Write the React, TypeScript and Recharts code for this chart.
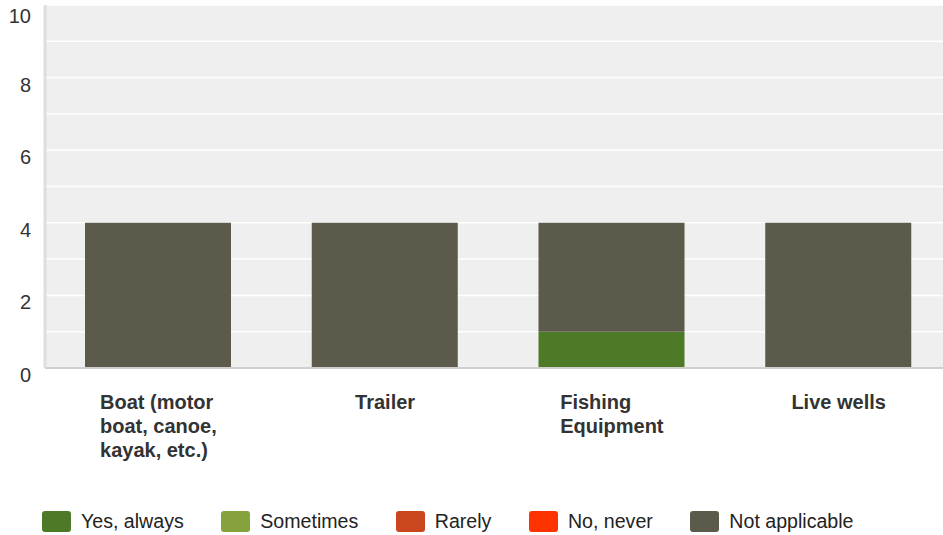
import React from "react";
import { BarChart, Bar, XAxis, YAxis, CartesianGrid } from "recharts";

const categories = ["Boat (motor boat, canoe, kayak, etc.)", "Trailer", "Fishing Equipment", "Live wells"];
const categoryLines = [["Boat (motor", "boat, canoe,", "kayak, etc.)"], ["Trailer"], ["Fishing", "Equipment"], ["Live wells"]];
const yesAlways = [0, 0, 1, 0];
const sometimes = [0, 0, 0, 0];
const rarely = [0, 0, 0, 0];
const noNever = [0, 0, 0, 0];
const notApplicable = [4, 4, 3, 4];
const yTicks = [0, 2, 4, 6, 8, 10];
const gridValues = [0, 1, 2, 3, 4, 5, 6, 7, 8, 9, 10];

const seriesNames = ["Yes, always", "Sometimes", "Rarely", "No, never", "Not applicable"];
const seriesKeys = ["yes", "sometimes", "rarely", "never", "na"];
const seriesColors = ["#4e7a27", "#86a23c", "#c9461e", "#ff3300", "#5c5a4b"];

const data = categories.map((c, i) => ({
  name: c,
  yes: yesAlways[i],
  sometimes: sometimes[i],
  rarely: rarely[i],
  never: noNever[i],
  na: notApplicable[i],
}));

const FONT = "'Liberation Sans', Arial, sans-serif";

let ctx: CanvasRenderingContext2D | null = null;
function measure(text: string): number {
  if (!ctx) {
    const c = document.createElement("canvas");
    ctx = c.getContext("2d");
  }
  if (!ctx) return text.length * 10;
  ctx.font = "bold 20px 'Liberation Sans', Arial, sans-serif";
  return ctx.measureText(text).width;
}

const XTick = (props: any) => {
  const { x, y, payload } = props;
  const i = categories.indexOf(payload.value);
  const lines = i >= 0 ? categoryLines[i] : [String(payload.value)];
  const w = Math.max(...lines.map(measure));
  const left = x - w / 2;
  return (
    <g>
      {lines.map((l, k) => (
        <text key={k} x={left} y={y + 41 + k * 24} textAnchor="start" fontFamily={FONT} fontSize={20} fontWeight="bold" fill="#333">
          {l}
        </text>
      ))}
    </g>
  );
};

const YTick = (props: any) => {
  const { y, payload } = props;
  return (
    <text x={31} y={y + 14} textAnchor="end" fontFamily={FONT} fontSize={20} fill="#333">
      {payload.value}
    </text>
  );
};

export default function App() {
  return (
    <div style={{ position: "absolute", left: 0, top: 0, width: 943, height: 535, overflow: "hidden", background: "#fff" }}>
      <BarChart width={952} height={535} data={data} margin={{ top: 5, right: 0, left: 0, bottom: 0 }} barSize={146}>
        <CartesianGrid fill="#efefef" stroke="#ffffff" strokeWidth={1.5} vertical={false} horizontalValues={gridValues} />
        <XAxis dataKey="name" height={167} tickLine={false} axisLine={{ stroke: "#cfcfcf", strokeWidth: 2 }} tickSize={0} tickMargin={0} tick={<XTick />} interval={0} />
        <YAxis width={45} domain={[0, 10]} ticks={yTicks} tickLine={false} axisLine={{ stroke: "#dedede", strokeWidth: 3 }} tick={<YTick />} />
        {seriesKeys.map((k, i) => (
          <Bar key={k} dataKey={k} name={seriesNames[i]} stackId="a" fill={seriesColors[i]} isAnimationActive={false} />
        ))}
      </BarChart>
      <div style={{ position: "absolute", left: 42, top: 511, display: "flex", alignItems: "center", fontFamily: FONT, fontSize: 19.6, color: "#222" }}>
        {seriesNames.map((n, i) => (
          <div key={n} style={{ display: "flex", alignItems: "center", marginRight: 37.5 }}>
            <div style={{ width: 29, height: 21, borderRadius: 3, background: seriesColors[i], marginRight: 10 }} />
            <span style={{ lineHeight: "21px", whiteSpace: "nowrap" }}>{n}</span>
          </div>
        ))}
      </div>
    </div>
  );
}
